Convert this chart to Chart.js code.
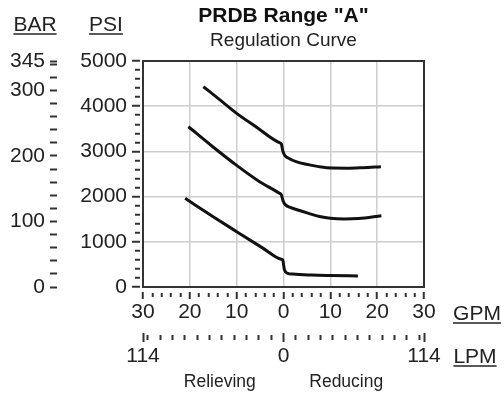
<!DOCTYPE html>
<html>
<head>
<meta charset="utf-8">
<script src="https://cdn.jsdelivr.net/npm/chart.js@4.4.1/dist/chart.umd.min.js"></script>
<style>
  body { margin: 0; background: #fff; }
  #wrap { width: 504px; height: 394px; position: relative; }
</style>
</head>
<body>
<div id="wrap"><canvas id="prdbChart"></canvas></div>
<script>
// curve data (GPM, PSI), negative GPM = relieving side
const highGpm = [-17.1, -13.7, -10, -5.9, -0.86, -0.45, -0.15, 0.3, 0.9, 2.7, 7.7, 10.5, 13.5, 17, 20.8];
const highPsi = [4431, 4150, 3842, 3546, 3192, 3165, 3010, 2905, 2860, 2772, 2661, 2630, 2628, 2640, 2661];

const midGpm = [-20.3, -15.1, -10, -5.1, -0.86, -0.45, -0.1, 0.3, 1.6, 2.7, 5.2, 7.7, 10, 13, 16, 20.9];
const midPsi = [3546, 3103, 2690, 2329, 2073, 2040, 1910, 1830, 1754, 1715, 1635, 1560, 1520, 1505, 1515, 1577];

const lowGpm = [-21, -15.1, -10, -4.4, -0.5, -0.15, 0.05, 0.2, 0.9, 2, 6, 10, 15.9];
const lowPsi = [1962, 1560, 1224, 860, 613, 597, 470, 380, 303, 285, 265, 255, 245];

// labelled ticks
const gpmLabels = [-30, -20, -10, 0, 10, 20, 30];
const psiLabels = [0, 1000, 2000, 3000, 4000, 5000];
const barLabels = [0, 100, 200, 300, 345];
const lpmLabels = [-114, 0, 114];

// minor tick marks
function steps(from, to, step) {
  const out = [];
  for (let v = from; v <= to + 1e-9; v += step) out.push(Math.round(v * 100) / 100);
  return out;
}
const gpmTicks = steps(-30, 30, 2);
const psiTicks = steps(0, 5000, 200);
const barTicks = steps(0, 340, 20).concat([345]);
const lpmTicks = [-114].concat(steps(-110, 110, 10), [114]);

const FONT = '"Liberation Sans", Arial, Helvetica, sans-serif';
const INK = '#222';
const GRID = '#cdcdcd';
const FRAME = '#333';

Chart.defaults.font.family = FONT;
Chart.defaults.color = INK;

function pts(xs, ys) {
  return xs.map((x, i) => ({ x: x, y: ys[i] }));
}
function isLabel(list, c) {
  return c.tick && list.includes(c.tick.value);
}

// underlined unit names beside the axes
const unitLabels = {
  id: 'unitLabels',
  afterDraw(chart) {
    const { ctx, chartArea } = chart;
    ctx.save();
    ctx.font = '21px ' + FONT;
    ctx.fillStyle = INK;
    ctx.strokeStyle = INK;
    ctx.lineWidth = 1.5;
    ctx.textAlign = 'center';
    ctx.textBaseline = 'alphabetic';
    function draw(txt, x, y) {
      ctx.fillText(txt, x, y);
      const w = ctx.measureText(txt).width;
      ctx.beginPath();
      ctx.moveTo(x - w / 2, y + 3);
      ctx.lineTo(x + w / 2, y + 3);
      ctx.stroke();
    }
    draw('BAR', 35, chartArea.top - 30);
    draw('PSI', chartArea.left - 37, chartArea.top - 30);
    draw('GPM', chartArea.right + 53, chartArea.bottom + 33);
    draw('LPM', chartArea.right + 51, chartArea.bottom + 76);
    ctx.restore();
  }
};

const lineStyle = {
  borderColor: '#111',
  borderWidth: 3,
  pointRadius: 0,
  showLine: true,
  fill: false,
  cubicInterpolationMode: 'monotone'
};

new Chart(document.getElementById('prdbChart'), {
  type: 'scatter',
  data: {
    datasets: [
      Object.assign({ label: 'High', data: pts(highGpm, highPsi) }, lineStyle),
      Object.assign({ label: 'Mid', data: pts(midGpm, midPsi) }, lineStyle),
      Object.assign({ label: 'Low', data: pts(lowGpm, lowPsi) }, lineStyle)
    ]
  },
  options: {
    responsive: true,
    maintainAspectRatio: false,
    animation: false,
    layout: { padding: { left: 0, right: 80, top: 0, bottom: 0 } },
    plugins: {
      legend: { display: false },
      tooltip: { enabled: false },
      title: {
        display: true,
        fullSize: false,
        text: 'PRDB Range "A"',
        color: '#111',
        font: { size: 21, weight: 'bold' },
        padding: { top: 4, bottom: 0 }
      },
      subtitle: {
        display: true,
        fullSize: false,
        text: 'Regulation Curve',
        color: INK,
        font: { size: 19 },
        padding: { top: 0, bottom: 9 }
      }
    },
    scales: {
      x: {
        type: 'linear',
        position: 'bottom',
        min: -30,
        max: 30,
        afterBuildTicks: s => { s.ticks = gpmTicks.map(v => ({ value: v })); },
        afterFit: s => { s.height = 46; },
        border: { display: true, color: FRAME, width: 2 },
        grid: {
          color: c => isLabel(gpmLabels, c) ? GRID : 'rgba(0,0,0,0)',
          lineWidth: 1.5,
          tickColor: FRAME,
          tickWidth: 2,
          tickLength: 12,
          tickBorderDash: c => isLabel(gpmLabels, c) ? [0, 4, 7, 50] : [0, 5, 4, 50]
        },
        ticks: {
          autoSkip: false,
          maxRotation: 0,
          minRotation: 0,
          padding: 1,
          font: { size: 21 },
          callback: v => gpmLabels.includes(v) ? String(Math.abs(v)) : ''
        }
      },
      lpm: {
        type: 'linear',
        position: 'bottom',
        min: -114,
        max: 114,
        afterBuildTicks: s => { s.ticks = lpmTicks.map(v => ({ value: v })); },
        afterFit: s => { s.height = 61; },
        border: { display: false },
        grid: {
          drawOnChartArea: false,
          tickColor: FRAME,
          tickWidth: 2,
          tickLength: 9,
          tickBorderDash: c => isLabel(lpmLabels, c) ? [] : [0, 2, 5, 50]
        },
        ticks: {
          autoSkip: false,
          maxRotation: 0,
          minRotation: 0,
          padding: 2,
          font: { size: 21 },
          callback: v => lpmLabels.includes(v) ? String(Math.abs(v)) : ''
        },
        title: {
          display: true,
          text: 'Relieving           Reducing',
          font: { size: 17.5 },
          padding: { top: 0, bottom: 1 }
        }
      },
      y: {
        type: 'linear',
        position: 'left',
        min: 0,
        max: 5000,
        afterBuildTicks: s => { s.ticks = psiTicks.map(v => ({ value: v })); },
        afterFit: s => { s.width = 86; },
        border: { display: true, color: FRAME, width: 2 },
        grid: {
          color: c => isLabel(psiLabels, c) ? GRID : 'rgba(0,0,0,0)',
          lineWidth: 1.5,
          tickColor: FRAME,
          tickWidth: 2,
          tickLength: 11,
          tickBorderDash: c => isLabel(psiLabels, c) ? [8, 50] : [0, 3, 5, 50]
        },
        ticks: {
          autoSkip: false,
          padding: 5,
          font: { size: 21 },
          callback: v => psiLabels.includes(v) ? String(v) : ''
        }
      },
      bar: {
        type: 'linear',
        position: 'left',
        min: 0,
        max: 345,
        afterBuildTicks: s => { s.ticks = barTicks.map(v => ({ value: v })); },
        afterFit: s => { s.width = 57; },
        border: { display: false },
        grid: {
          drawOnChartArea: false,
          tickColor: FRAME,
          tickWidth: 2,
          tickLength: 7
        },
        ticks: {
          autoSkip: false,
          padding: 5,
          font: { size: 21 },
          callback: v => barLabels.includes(v) ? String(v) : ''
        }
      },
      frameTop: {
        type: 'linear',
        position: 'top',
        min: -30,
        max: 30,
        afterFit: s => { s.height = 0; },
        border: { display: true, color: FRAME, width: 2 },
        grid: { drawOnChartArea: false, drawTicks: false },
        ticks: { display: false }
      },
      frameRight: {
        type: 'linear',
        position: 'right',
        min: 0,
        max: 5000,
        afterFit: s => { s.width = 0; },
        border: { display: true, color: FRAME, width: 2 },
        grid: { drawOnChartArea: false, drawTicks: false },
        ticks: { display: false }
      }
    }
  },
  plugins: [unitLabels]
});
</script>
</body>
</html>
